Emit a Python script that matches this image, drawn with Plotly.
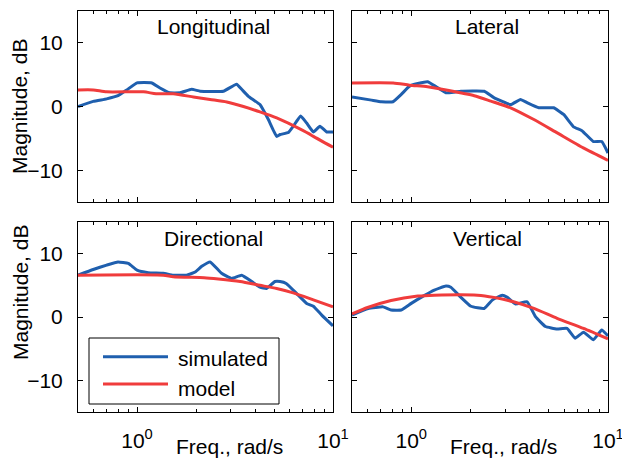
import plotly.graph_objects as go

# ---------------- data ----------------
lon_sim_f = [0.5, 0.598, 0.70, 0.80, 0.886, 1.0, 1.19, 1.31, 1.47, 1.66, 1.90, 2.10, 2.76, 3.22, 3.42, 3.70, 4.24, 4.68, 5.16, 5.37, 5.92, 6.27, 6.84, 7.34, 7.94, 8.58, 9.29, 10.0]
lon_sim_db = [0.0, 0.8, 1.2, 1.7, 2.6, 3.7, 3.7, 2.9, 2.15, 2.15, 2.7, 2.4, 2.4, 3.5, 2.7, 1.6, 0.3, -2.05, -4.7, -4.4, -4.1, -3.1, -1.5, -2.6, -4.0, -3.1, -4.0, -4.0]
lon_mod_f = [0.5, 0.598, 0.70, 1.08, 1.25, 1.53, 1.94, 2.36, 2.87, 3.49, 4.24, 5.16, 6.27, 7.57, 7.94, 10.0]
lon_mod_db = [2.6, 2.6, 2.3, 2.3, 2.0, 2.0, 1.5, 1.1, 0.7, 0.0, -0.85, -1.8, -3.0, -4.3, -4.7, -6.4]

lat_sim_f = [0.5, 0.628, 0.705, 0.808, 0.89, 0.98, 1.08, 1.21, 1.34, 1.50, 1.65, 1.79, 2.35, 2.63, 3.20, 3.59, 3.88, 4.45, 5.29, 5.95, 6.68, 7.37, 8.43, 9.29, 10.0]
lat_sim_db = [1.5, 1.0, 0.75, 0.75, 1.9, 3.2, 3.6, 3.9, 3.1, 2.15, 2.25, 2.4, 2.4, 1.4, 0.3, 1.1, 0.6, -0.2, -0.2, -1.25, -3.2, -3.8, -5.5, -5.5, -7.3]
lat_mod_f = [0.5, 0.81, 0.98, 1.21, 1.53, 2.09, 2.54, 3.20, 4.20, 5.52, 7.49, 10.0]
lat_mod_db = [3.7, 3.7, 3.35, 3.1, 2.55, 1.7, 0.85, -0.2, -2.05, -4.15, -6.5, -8.45]

dir_sim_f = [0.5, 0.598, 0.70, 0.80, 0.903, 1.0, 1.14, 1.36, 1.53, 1.79, 1.98, 2.14, 2.36, 2.70, 3.04, 3.42, 3.85, 4.24, 4.58, 5.06, 5.37, 5.77, 6.53, 7.34, 7.94, 8.76, 10.0]
dir_sim_db = [6.6, 7.5, 8.2, 8.7, 8.45, 7.4, 7.0, 6.9, 6.6, 6.6, 7.1, 8.0, 8.7, 6.9, 6.1, 6.6, 5.6, 4.7, 4.5, 5.6, 5.6, 5.3, 3.7, 2.15, 1.7, 0.3, -1.4]
dir_mod_f = [0.5, 1.36, 1.53, 2.2, 2.6, 3.36, 4.24, 5.16, 6.27, 7.94, 10.0]
dir_mod_db = [6.6, 6.6, 6.35, 6.2, 6.0, 5.6, 5.0, 4.5, 3.8, 2.7, 1.6]

ver_sim_f = [0.5, 0.604, 0.72, 0.79, 0.89, 1.0, 1.15, 1.31, 1.50, 1.59, 1.79, 2.01, 2.35, 2.59, 2.90, 3.08, 3.39, 3.88, 4.28, 4.81, 5.51, 6.19, 6.81, 7.51, 8.43, 9.29, 10.0]
ver_sim_db = [0.3, 1.35, 1.6, 1.1, 1.1, 2.15, 3.3, 4.25, 4.9, 4.7, 3.1, 1.7, 1.35, 2.7, 3.45, 3.1, 2.05, 2.4, 0.05, -1.5, -1.9, -1.8, -3.35, -2.4, -3.6, -2.05, -3.0]
ver_mod_f = [0.5, 0.6, 0.79, 1.08, 1.31, 2.17, 2.63, 3.31, 4.20, 5.51, 7.51, 10.0]
ver_mod_db = [0.5, 1.5, 2.6, 3.3, 3.45, 3.45, 3.1, 2.4, 1.35, -0.2, -1.8, -3.45]

panel_titles = ["Longitudinal", "Lateral", "Directional", "Vertical"]
series_names = ["simulated", "model"]
y_ticks = [-10, 0, 10]
x_ticks = [1, 10]
x_ticktext = ["10<sup>0</sup>", "10<sup>1</sup>"]
x_minor = [0.6, 0.7, 0.8, 0.9, 2, 3, 4, 5, 6, 7, 8, 9]

# ---------------- styling ----------------
W, H = 622, 458
BLUE = "#1f5fae"
RED = "#f03c3c"
FONT = "Liberation Sans, Arial, Helvetica, sans-serif"
FS = 21

def px(x):
    return x / W

def py(y):
    return 1 - y / H

fig = go.Figure()

panels = [
    (lon_sim_f, lon_sim_db, lon_mod_f, lon_mod_db),
    (lat_sim_f, lat_sim_db, lat_mod_f, lat_mod_db),
    (dir_sim_f, dir_sim_db, dir_mod_f, dir_mod_db),
    (ver_sim_f, ver_sim_db, ver_mod_f, ver_mod_db),
]

xdoms = [[px(78), px(333)], [px(352), px(608)]]
ydoms = [[py(202), py(11)], [py(412), py(222)]]

for i, (sf, sd, mf, md) in enumerate(panels):
    n = i + 1
    xa = "x" if n == 1 else f"x{n}"
    ya = "y" if n == 1 else f"y{n}"
    fig.add_trace(go.Scatter(x=sf, y=sd, mode="lines", name=series_names[0],
                             line=dict(color=BLUE, width=3, shape="spline", smoothing=0.35),
                             xaxis=xa, yaxis=ya, showlegend=False))
    fig.add_trace(go.Scatter(x=mf, y=md, mode="lines", name=series_names[1],
                             line=dict(color=RED, width=3, shape="spline", smoothing=0.6),
                             xaxis=xa, yaxis=ya, showlegend=False))
    row, col = divmod(i, 2)
    common = dict(showline=True, linecolor="black", linewidth=1, mirror="allticks",
                  ticks="inside", tickcolor="black", showgrid=False, zeroline=False,
                  tickfont=dict(family=FONT, size=FS, color="black"))
    xkey = "xaxis" if n == 1 else f"xaxis{n}"
    ykey = "yaxis" if n == 1 else f"yaxis{n}"
    fig.update_layout({
        xkey: dict(common, type="log", range=[-0.30103, 1], domain=xdoms[col],
                   anchor=ya, tickvals=x_ticks, ticktext=x_ticktext, ticklen=5,
                   showticklabels=(row == 1), ticklabelstandoff=10,
                   ticklabeloverflow="allow",
                   minor=dict(ticks="inside", ticklen=3, tickcolor="black",
                              tickvals=x_minor, showgrid=False)),
        ykey: dict(common, range=[-15, 15], domain=ydoms[row], anchor=xa,
                   tickvals=y_ticks, ticklen=5, showticklabels=(col == 0),
                   ticklabelstandoff=10, ticklabeloverflow="allow"),
    })

annotations = []
title_pos = [(213.5, 26.5), (487, 26.5), (213, 238), (487.5, 238)]
for t, (x, y) in zip(panel_titles, title_pos):
    annotations.append(dict(text=t, x=px(x), y=py(y), xref="paper", yref="paper",
                            xanchor="center", yanchor="middle", showarrow=False,
                            font=dict(family=FONT, size=FS, color="black")))
for (x, y) in [(20, 107), (20, 293)]:
    annotations.append(dict(text="Magnitude, dB", x=px(x), y=py(y), xref="paper", yref="paper",
                            xanchor="center", yanchor="middle", textangle=-90, showarrow=False,
                            font=dict(family=FONT, size=FS, color="black")))
for (x, y) in [(229, 446), (503.5, 446)]:
    annotations.append(dict(text="Freq., rad/s", x=px(x), y=py(y), xref="paper", yref="paper",
                            xanchor="center", yanchor="middle", showarrow=False,
                            font=dict(family=FONT, size=FS, color="black")))
# legend
for name, y in zip(series_names, [358, 388]):
    annotations.append(dict(text=name, x=px(176), y=py(y), xref="paper", yref="paper",
                            xanchor="left", yanchor="middle", showarrow=False,
                            font=dict(family=FONT, size=FS, color="black")))

shapes = [
    dict(type="rect", xref="paper", yref="paper", x0=px(89), x1=px(279), y0=py(404), y1=py(338),
         line=dict(color="black", width=1), fillcolor="white", layer="above"),
    dict(type="line", xref="paper", yref="paper", x0=px(103), x1=px(168), y0=py(356.7), y1=py(356.7),
         line=dict(color=BLUE, width=3), layer="above"),
    dict(type="line", xref="paper", yref="paper", x0=px(103), x1=px(168), y0=py(384), y1=py(384),
         line=dict(color=RED, width=3), layer="above"),
]

fig.update_layout(width=W, height=H, margin=dict(l=0, r=0, t=0, b=0, autoexpand=False),
                  autosize=False,
                  paper_bgcolor="white", plot_bgcolor="white",
                  font=dict(family=FONT, size=FS, color="black"),
                  annotations=annotations, shapes=shapes, showlegend=False)

fig.write_html("out.html", config={"responsive": False},
               post_script="document.documentElement.style.overflow='hidden';"
                           "document.body.style.margin='0';"
                           "document.body.style.overflow='hidden';")
